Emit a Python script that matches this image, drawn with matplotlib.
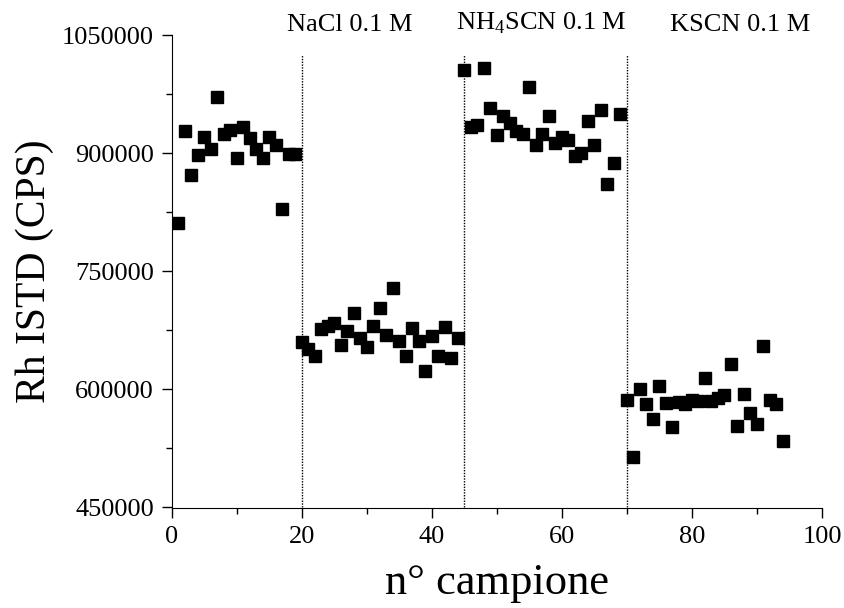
import matplotlib
matplotlib.use("Agg")
from matplotlib import pyplot as plt
from matplotlib.ticker import FuncFormatter

plt.rcParams["font.family"] = ["Liberation Serif", "DejaVu Serif"]
plt.rcParams["mathtext.fontset"] = "custom"
plt.rcParams["mathtext.rm"] = "Liberation Serif"

# Rh ISTD counts per sample, one list per matrix
x_water = list(range(1, 20))
y_water = [811000, 928000, 873000, 898000, 921000, 906000, 971000, 925000,
           930000, 894000, 933000, 920000, 906000, 894000, 921000, 911000,
           829000, 899000, 899000]

x_nacl = list(range(20, 45))
y_nacl = [660000, 652000, 643000, 677000, 680000, 685000, 656000, 674000,
          697000, 665000, 654000, 680000, 704000, 669000, 729000, 661000,
          643000, 678000, 661000, 624000, 668000, 642000, 679000, 640000,
          666000]

x_nh4 = list(range(45, 70))
y_nh4 = [1006000, 934000, 936000, 1008000, 958000, 923000, 947000, 938000,
         929000, 924000, 984000, 911000, 925000, 948000, 913000, 921000,
         917000, 897000, 900000, 941000, 910000, 955000, 861000, 888000,
         950000]

x_kscn = list(range(70, 95))
y_kscn = [586000, 514000, 600000, 582000, 563000, 604000, 583000, 552000,
          584000, 582000, 586000, 585000, 615000, 585000, 589000, 593000,
          632000, 553000, 594000, 570000, 556000, 655000, 586000, 581000,
          534000]

separators = [20, 45, 70]
labels = ["NaCl 0.1 M", r"NH$_\mathregular{4}$SCN 0.1 M", "KSCN 0.1 M"]
label_x = [27.4, 56.8, 87.4]

fig = plt.figure(figsize=(8.45, 6.08), dpi=100)
ax = fig.add_axes([172 / 845, 1 - 507.5 / 608, 650 / 845, 472.2 / 608])

for xs, ys in [(x_water, y_water), (x_nacl, y_nacl), (x_nh4, y_nh4), (x_kscn, y_kscn)]:
    ax.plot(xs, ys, "s", color="black", markersize=8, linestyle="none")

for s in separators:
    ax.vlines(s, 450000, 1025000, color="black", linestyle=(0, (1, 1)), linewidth=1)

for lx, lab in zip(label_x, labels):
    ax.text(lx, 1049000, lab, ha="center", va="bottom", fontsize=19)

ax.set_xlim(0, 100)
ax.set_ylim(450000, 1050000)
ax.set_xticks([0, 20, 40, 60, 80, 100])
ax.set_xticks([10, 30, 50, 70, 90], minor=True)
ax.set_yticks([450000, 600000, 750000, 900000, 1050000])
ax.set_yticks([525000, 675000, 825000, 975000], minor=True)
ax.yaxis.set_major_formatter(FuncFormatter(lambda v, p: "%d" % v))
ax.spines["top"].set_visible(False)
ax.spines["right"].set_visible(False)
ax.tick_params(which="major", direction="out", length=7, width=1, labelsize=19, pad=6)
ax.tick_params(which="minor", direction="out", length=4, width=1)

ax.set_xlabel("n° campione", fontsize=32, labelpad=11)
ax.set_ylabel("Rh ISTD (CPS)", fontsize=30, labelpad=6)

fig.savefig("out.png", dpi=100)
